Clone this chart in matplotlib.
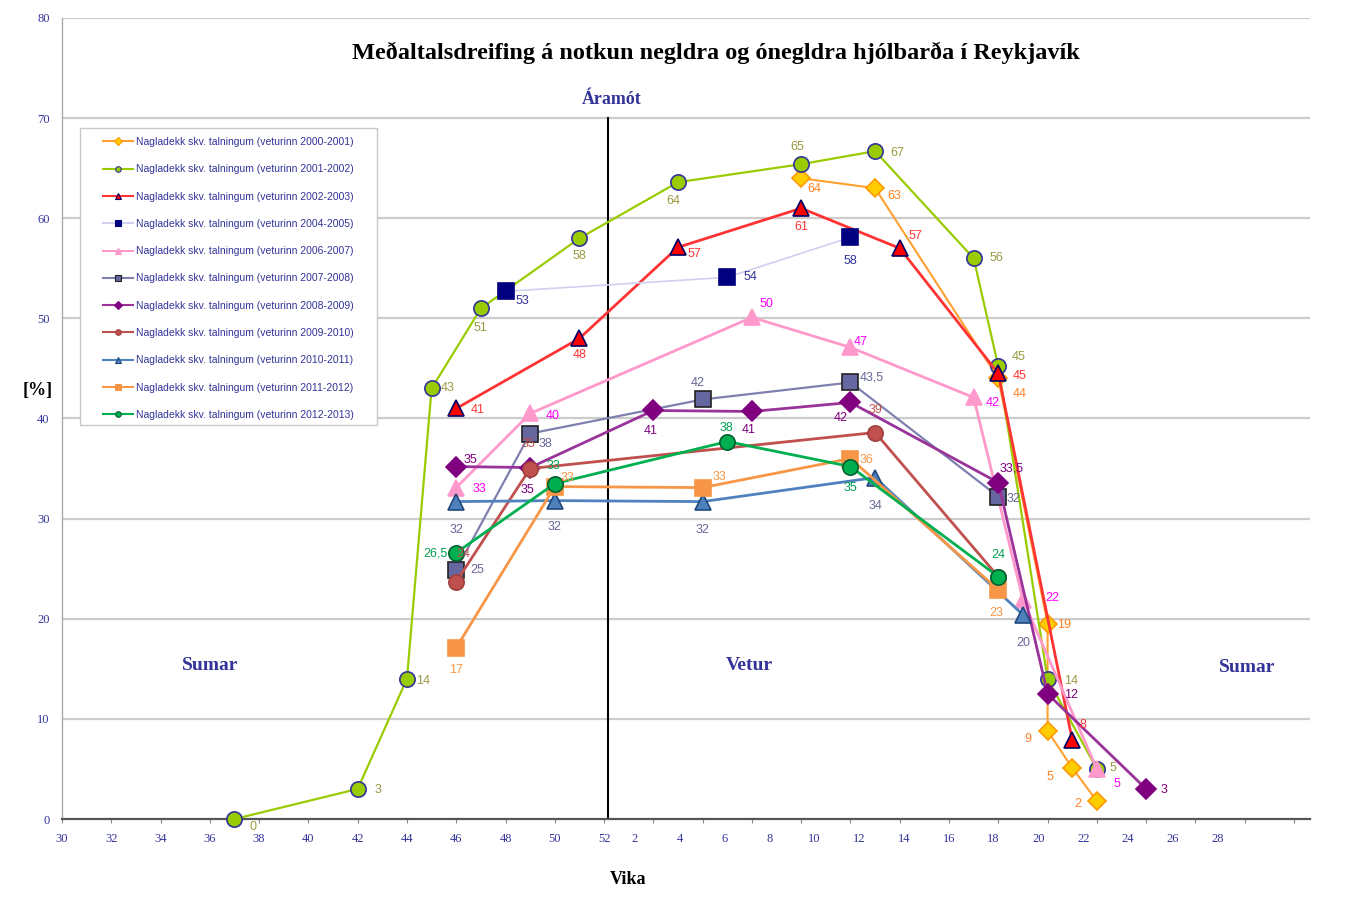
import numpy as np
import matplotlib
matplotlib.use("Agg")
import matplotlib.pyplot as plt
from matplotlib.lines import Line2D
from matplotlib.patches import Rectangle
from matplotlib.ticker import FixedLocator, NullFormatter

# --- data -------------------------------------------------------------
SERIES = [
    "Nagladekk skv. talningum (veturinn 2000-2001)",
    "Nagladekk skv. talningum (veturinn 2001-2002)",
    "Nagladekk skv. talningum (veturinn 2002-2003)",
    "Nagladekk skv. talningum (veturinn 2004-2005)",
    "Nagladekk skv. talningum (veturinn 2006-2007)",
    "Nagladekk skv. talningum (veturinn 2007-2008)",
    "Nagladekk skv. talningum (veturinn 2008-2009)",
    "Nagladekk skv. talningum (veturinn 2009-2010)",
    "Nagladekk skv. talningum (veturinn 2010-2011)",
    "Nagladekk skv. talningum (veturinn 2011-2012)",
    "Nagladekk skv. talningum (veturinn 2012-2013)",
]

# week numbers (weeks < 30 belong to the next calendar year)
WEEKS = [
    [8, 11, 16, 18, 18, 19, 20],
    [37, 42, 44, 45, 47, 51, 3, 8, 11, 15, 16, 18, 20],
    [46, 51, 3, 8, 12, 16, 19],
    [48, 5, 10],
    [46, 49, 6, 10, 15, 17, 20],
    [46, 49, 4, 10, 16],
    [46, 49, 2, 6, 10, 16, 18, 22],
    [46, 49, 11, 16],
    [46, 50, 4, 11, 17],
    [46, 50, 4, 10, 16],
    [46, 50, 5, 10, 16],
]

VALUES = [
    [64, 63, 44, 19.5, 8.8, 5.1, 1.8],
    [0, 3, 14, 43, 51, 58, 63.6, 65.4, 66.7, 56, 45.2, 14, 5],
    [41, 48, 57.1, 61, 57, 44.5, 7.9],
    [52.7, 54.1, 58.1],
    [33.1, 40.5, 50.1, 47.1, 42.1, 21.9, 5],
    [24.9, 38.5, 41.9, 43.6, 32.2],
    [35.2, 35.1, 40.8, 40.7, 41.6, 33.6, 12.5, 3],
    [23.7, 35, 38.6, 24.2],
    [31.7, 31.8, 31.7, 34.1, 20.4],
    [17.1, 33.2, 33.1, 36.0, 22.9],
    [26.6, 33.5, 37.7, 35.2, 24.2],
]

LABELS = [
    ["64", "63", "44", "19", "9", "5", "2"],
    ["0", "3", "14", "43", "51", "58", "64", "65", "67", "56", "45", "14", "5"],
    ["41", "48", "57", "61", "57", "45", "8"],
    ["53", "54", "58"],
    ["33", "40", "50", "47", "42", "22", "5"],
    ["25", "38", "42", "43,5", "32"],
    ["35", "35", "41", "41", "42", "33,5", "12", "3"],
    ["24", "35", "39", ""],
    ["32", "32", "32", "34", "20"],
    ["17", "33", "33", "36", "23"],
    ["26,5", "33", "38", "35", "24"],
]

WEEK_TICKS_A = list(range(30, 53, 2))
WEEK_TICKS_B = list(range(2, 29, 2))

# --- label placement (pixel offsets of label centre from marker) ------
OFFSETS = [
    [(13, -11), (19, -8), (21, -16), (16, -1), (-20, -8), (-22, -9), (-19, -3)],
    [(19, -8), (20, -1), (16, -2), (16, 0), (0, -20), (0, -18), (-5, -19),
     (-4, 17), (22, -2), (23, 0), (20, 9), (23, -2), (16, 1)],
    [(21, -2), (0, -17), (16, -7), (0, -19), (16, 12), (21, -3), (11, 15)],
    [(17, -10), (23, 0), (0, -24)],
    [(23, -1), (23, -3), (15, 13), (10, 5), (19, -6), (29, 2), (20, -15)],
    [(21, 0), (15, -10), (-5, 16), (21, 5), (15, -2)],
    [(14, 7), (-3, -22), (-3, -21), (-3, -19), (-10, -16), (13, 14), (23, -1), (18, -1)],
    [(7, 28), (-2, 25), (0, 23), (0, 0)],
    [(0, -28), (0, -26), (0, -28), (0, -28), (0, -28)],
    [(0, -22), (13, 9), (17, 11), (16, -1), (-2, -23)],
    [(-21, -1), (-1, 18), (-1, 14), (0, -21), (0, 22)],
]

STYLES = [
    dict(color="#FFA030", lw=1.5, marker="D", ms=9, mfc="#FFCC00", mec="#FF9900", tc="#FF8020"),
    dict(color="#99CC00", lw=1.6, marker="o", ms=11, mfc="#99CC00", mec="#333399", tc="#999940"),
    dict(color="#FF3333", lw=2.0, marker="^", ms=11, mfc="#FF0000", mec="#000066", tc="#FF3333"),
    dict(color="#D0D0F0", lw=1.2, marker="s", ms=12, mfc="#000080", mec="#000080", tc="#333399"),
    dict(color="#FF99CC", lw=2.0, marker="^", ms=12, mfc="#FF99CC", mec="#FF99CC", tc="#FF00FF"),
    dict(color="#8080B0", lw=1.6, marker="s", ms=12, mfc="#6666A0", mec="#222222", tc="#666699"),
    dict(color="#993399", lw=2.0, marker="D", ms=10, mfc="#800080", mec="#800080", tc="#800080"),
    dict(color="#C0504D", lw=2.0, marker="o", ms=11, mfc="#C0504D", mec="#A0403D", tc="#C0504D"),
    dict(color="#4F81BD", lw=2.0, marker="^", ms=12, mfc="#4F81BD", mec="#1F497D", tc="#666699"),
    dict(color="#F79646", lw=2.0, marker="s", ms=12, mfc="#F79646", mec="#F79646", tc="#F79646"),
    dict(color="#00B050", lw=2.0, marker="o", ms=11, mfc="#00B050", mec="#006030", tc="#00A050"),
]

SERIF = "Liberation Serif"
SANS = "Liberation Sans"
BLUE = "#333399"
PX = 72.0 / 100  # points per pixel


def season(w):
    # continuous week axis across the new year
    w = np.asarray(w, dtype=float)
    return np.where(w < 29, w + 52, w)


fig = plt.figure(figsize=(13.47, 8.98), dpi=100)
ax = fig.add_axes([62 / 1347, 79 / 898, 1248 / 1347, 801 / 898])

ax.set_xlim(30, 80.65)
ax.set_ylim(0, 80)

# grid + axes
for y in range(10, 81, 10):
    ax.axhline(y, color="#CCCCCC", lw=1.6, zorder=0)
for s in ["top", "right"]:
    ax.spines[s].set_visible(False)
ax.spines["left"].set_color("#AAAAAA")
ax.spines["left"].set_linewidth(1)
ax.spines["bottom"].set_color("#555555")
ax.spines["bottom"].set_linewidth(1.6)

ax.set_yticks(range(0, 81, 10))
ax.tick_params(axis="y", length=0, pad=9, labelsize=9, labelcolor=BLUE)
for t in ax.get_yticklabels():
    t.set_fontfamily(SERIF)

# x: marks every two weeks, labels at their own (picture) positions
ax.xaxis.remove_overlapping_locs = False
ax.xaxis.set_major_locator(FixedLocator(np.arange(30, 81, 2)))
ax.xaxis.set_major_formatter(NullFormatter())
lab_pos = list(WEEK_TICKS_A) + [53.25 + (w - 2) * 0.91 for w in WEEK_TICKS_B]
ax.xaxis.set_minor_locator(FixedLocator(lab_pos))
ax.set_xticklabels([str(w) for w in WEEK_TICKS_A + WEEK_TICKS_B], minor=True)
ax.tick_params(axis="x", which="major", length=3, color="#888888", direction="out")
ax.tick_params(axis="x", which="minor", length=0, pad=10, labelsize=9, labelcolor=BLUE)
for t in ax.get_xticklabels(minor=True):
    t.set_fontfamily(SERIF)

# Áramót line
aramot = 52.16
ax.plot([aramot, aramot], [0, 70], color="black", lw=1.5, zorder=1)
ax.text(aramot + 0.15, 71.9, "Áramót", ha="center", va="center", fontsize=13,
        fontweight="bold", family=SERIF, color=BLUE)

for txt, xx, yy in [("Sumar", 36.0, 15.3), ("Vetur", 57.9, 15.3), ("Sumar", 78.1, 15.1)]:
    ax.text(xx, yy, txt, ha="center", va="center", fontsize=14, fontweight="bold",
            family=SERIF, color=BLUE)

# series
handles = []
for i, name in enumerate(SERIES):
    st = STYLES[i]
    xs = season(WEEKS[i])
    ys = VALUES[i]
    ax.plot(xs, ys, color=st["color"], lw=st["lw"], marker=st["marker"], ms=st["ms"],
            mfc=st["mfc"], mec=st["mec"], mew=1.2, zorder=3 + i, clip_on=False)
    for x, y, lab, (dx, dy) in zip(xs, ys, LABELS[i], OFFSETS[i]):
        if lab:
            ax.annotate(lab, (x, y), xytext=(dx * PX, dy * PX), textcoords="offset points",
                        ha="center", va="center", fontsize=9, family=SANS,
                        color=st["tc"], zorder=20)
    handles.append(Line2D([], [], color=st["color"], lw=1.5, marker=st["marker"], ms=4,
                          mfc=st["mfc"], mec=st["mec"], mew=0.8))

# legend with its own frame
ax.add_patch(Rectangle((18 / 1248, (819 - 425) / 801), 297 / 1248, 297 / 801,
                       transform=ax.transAxes, fill=True, facecolor="white",
                       edgecolor="#C8C8C8", lw=1, zorder=30))
leg = ax.legend(handles, SERIES, loc="upper left", bbox_to_anchor=(41 / 1248, (819 - 137) / 801),
                frameon=False, borderpad=0, borderaxespad=0,
                labelspacing=1.66, handlelength=2.9, handletextpad=0.3,
                prop={"family": SANS, "size": 7.5})
leg.set_zorder(31)
for t in leg.get_texts():
    t.set_color(BLUE)

fig.text(716 / 1347, 1 - 53 / 898, "Meðaltalsdreifing á notkun negldra og ónegldra hjólbarða í Reykjavík",
         ha="center", va="center", fontsize=17.5, fontweight="bold", family=SERIF)
fig.text(38 / 1347, 1 - 390 / 898, "[%]", ha="center", va="center", fontsize=13,
         fontweight="bold", family=SERIF)
fig.text(628 / 1347, 1 - 880 / 898, "Vika", ha="center", va="center", fontsize=13,
         fontweight="bold", family=SERIF)

fig.savefig("out.png", dpi=100)
